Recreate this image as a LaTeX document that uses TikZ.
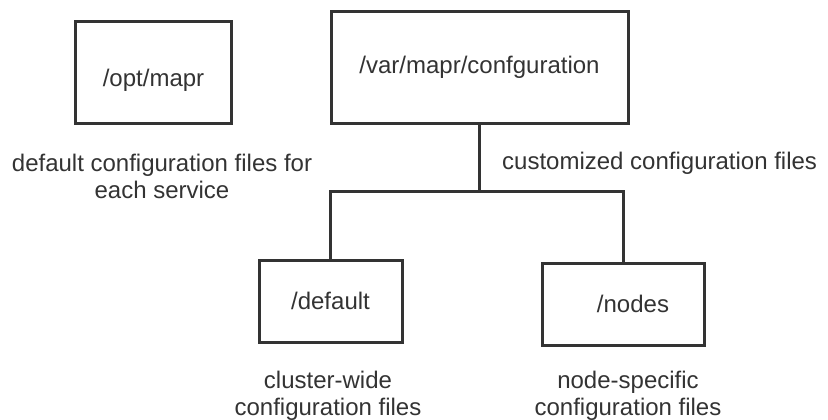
\documentclass[tikz,border=0pt]{standalone}
\usepackage{fontspec}
\setmainfont{Liberation Sans}
\definecolor{ink}{HTML}{333333}
\begin{document}
\begin{tikzpicture}[x=1pt,y=-1pt,
  box/.style={draw=ink,line width=3pt,rectangle,inner sep=0pt},
  conn/.style={draw=ink,line width=3pt},
  txt/.style={text=ink,font=\fontsize{24}{27}\selectfont,inner sep=0pt,align=center}]
\useasboundingbox (0,0) rectangle (828,420);
% boxes
\node[box,minimum width=156pt,minimum height=101pt] (opt) at (153,72.5) {};
\node[txt] (optt) at (153.5,80) {/opt/mapr};
\node[box,minimum width=297pt,minimum height=111pt,txt] (var) at (479.5,67.5) {/var/mapr/confguration};
\node[box,minimum width=143pt,minimum height=82pt,txt] (def) at (330.5,301) {/default};
\node[box,minimum width=162pt,minimum height=82pt] (nod) at (623,304) {};
\node[txt] (nodt) at (633,304) {/nodes};
% connectors
\coordinate (j) at (479.5,191);
\draw[conn] (var.south) -- (j);
\draw[conn] (def.north) |- (j) -| (nod.north);
% labels
\node[txt] (optl) at (162,176) {default configuration files for\\each service};
\node[txt,anchor=west] (varl) at (502,163) {customized configuration files};
\node[txt] (defl) at (328,396) {cluster-wide\\configuration files};
\node[txt] (nodl) at (628,396) {node-specific\\configuration files};
\end{tikzpicture}
\end{document}
